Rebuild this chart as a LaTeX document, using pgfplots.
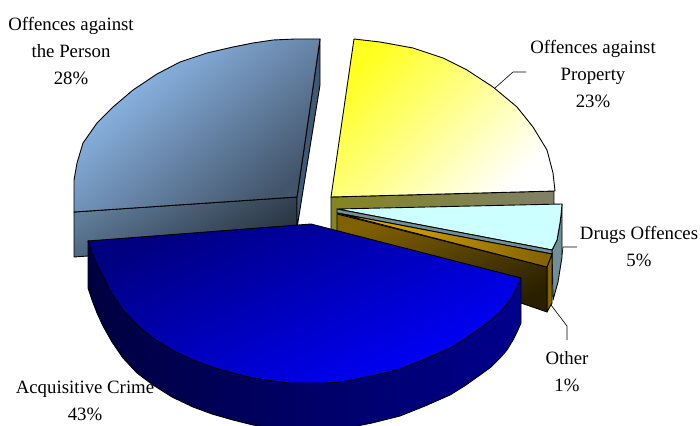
\documentclass[border=0pt]{standalone}
\usepackage{pgfplots}
\pgfplotsset{compat=1.18}
\usepackage{fontspec}
\setmainfont{Liberation Serif}
\definecolor{pTopA}{HTML}{95C2F5}
\definecolor{pTopM}{HTML}{84ADD8}
\definecolor{pTopB}{HTML}{42546A}
\definecolor{pFrontA}{HTML}{5F7C99}
\definecolor{pFrontB}{HTML}{252F3A}
\definecolor{pSide}{HTML}{3F5874}
\definecolor{yTopA}{HTML}{FFFF20}
\definecolor{yTopM}{HTML}{FFFFB8}
\definecolor{yFrontA}{HTML}{858520}
\definecolor{yFrontB}{HTML}{808068}
\definecolor{cTop}{HTML}{CCFFFF}
\definecolor{cSide}{HTML}{6F9096}
\definecolor{oTopA}{HTML}{F0B800}
\definecolor{oTopB}{HTML}{806000}
\definecolor{oFrontA}{HTML}{806000}
\definecolor{oFrontB}{HTML}{2A2000}
\definecolor{oSide}{HTML}{8A6C00}
\definecolor{bTopA}{HTML}{000080}
\definecolor{bTopB}{HTML}{0000FF}
\definecolor{bSideA}{HTML}{000040}
\definecolor{bSideB}{HTML}{00008C}
\begin{document}
\begin{tikzpicture}
\begin{axis}[width=700pt,height=425pt,scale only axis,hide axis,
  xmin=0,xmax=700,ymin=0,ymax=425,y dir=reverse,
  every axis plot/.append style={no markers,line join=round,line width=0.9pt},
  clip=true]
% bounding corners
\addplot[draw=none] coordinates {(0,0)(700,425)};
% ---- Offences against the Person
\addplot[draw=black,top color=pFrontA,bottom color=pFrontB,shading angle=30] coordinates {(74,212)(74,257)(297,241)(297,197)} -- cycle;
\addplot[draw=black,fill=pSide] coordinates {(320,39)(320,85)(297,228)(297,197)} -- cycle;
\addplot[draw=black,top color=pTopA,middle color=pTopM,bottom color=pTopB,shading angle=40] coordinates {
(320,39)(295,39)(273,40)(253,43)(233,47)(207,53)(180,62)(157,74)(133,90)(113,107)(97,123)(83,143)(77,163)(74,180)(74,212)(297,197)} -- cycle;
% ---- Offences against Property
\addplot[draw=black,left color=yFrontA,right color=yFrontB] coordinates {(331,197)(554,191)(554,215)(340,225)(340,240)(331,240)} -- cycle;
\addplot[draw=black,top color=yTopA,middle color=yTopM,bottom color=white,shading angle=45] coordinates {
(354,39)(380,42)(413,48)(443,58)(467,70)(493,87)(517,107)(533,127)(547,150)(553,173)(555,191)(331,197)} -- cycle;
% ---- Drugs Offences
\addplot[draw=black,fill=cSide] coordinates {(562,204)(562,257)(558,282)(553,300)(552,250)(557,240)(560,223)} -- cycle;
\addplot[draw=black,fill=cTop] coordinates {(337,209)(562,204)(561,215)(560,223)(557,240)(552,250)} -- cycle;
\addplot[draw=black,fill=cSide] coordinates {(337,209)(552,250)(552,254)(337,213)} -- cycle;
% ---- Other
\addplot[draw=black,left color=oFrontA,right color=oSide] coordinates {(552,254)(547,267)(547,312)(552,303)} -- cycle;
\addplot[draw=black,top color=oFrontA,bottom color=oFrontB,shading angle=25] coordinates {(337,214)(547,267)(547,312)(521,303)(337,240)} -- cycle;
\addplot[draw=black,left color=oTopA,right color=oTopB] coordinates {(337,213)(552,254)(547,267)} -- cycle;
% ---- Acquisitive Crime
\addplot[draw=black,left color=bSideA,right color=bSideB] coordinates {
(88,241)(88,288)(92,300)(97,313)(103,326)(112,342)(123,358)(137,373)(153,385)(172,397)(193,407)(212,414)(233,420)(253,425)(273,428)(290,430)(307,430)(327,430)(347,428)(372,423)(400,416)(425,406)(450,395)(466,385)(480,375)(491,367)(500,358)(507,350)(513,340)(517,332)(521,323)(521,278)} -- cycle;
\addplot[draw=black,top color=bTopA,bottom color=bTopB,shading angle=25] coordinates {
(311,224)(88,241)(92,253)(97,265)(103,277)(112,294)(123,310)(137,325)(153,338)(172,350)(193,360)(212,367)(233,373)(253,378)(273,381)(290,383)(307,383)(327,383)(347,381)(372,376)(400,369)(425,359)(450,348)(466,338)(480,328)(491,320)(500,312)(507,304)(513,295)(517,287)(521,278)} -- cycle;
% ---- Leader lines
\addplot[draw=black,line width=0.6pt] coordinates {(495,88)(513,72)(526,72)};
\addplot[draw=black,line width=0.6pt] coordinates {(562,255)(563,247)(577,247)};
\addplot[draw=black,line width=0.6pt] coordinates {(551,305)(567,326)(567,340)};
% ---- Labels
\tikzset{lab/.style={font=\fontsize{18.8}{27}\selectfont,align=center,inner sep=0pt,text=black}}
\node[lab] at (axis cs:71,51) {Offences against\\the Person\\28\%};
\node[lab] at (axis cs:593,74) {Offences against\\Property\\23\%};
\node[lab] at (axis cs:639,247) {Drugs Offences\\5\%};
\node[lab] at (axis cs:567,372) {Other\\1\%};
\node[lab] at (axis cs:85,401) {Acquisitive Crime\\43\%};
\end{axis}
\end{tikzpicture}
\end{document}
